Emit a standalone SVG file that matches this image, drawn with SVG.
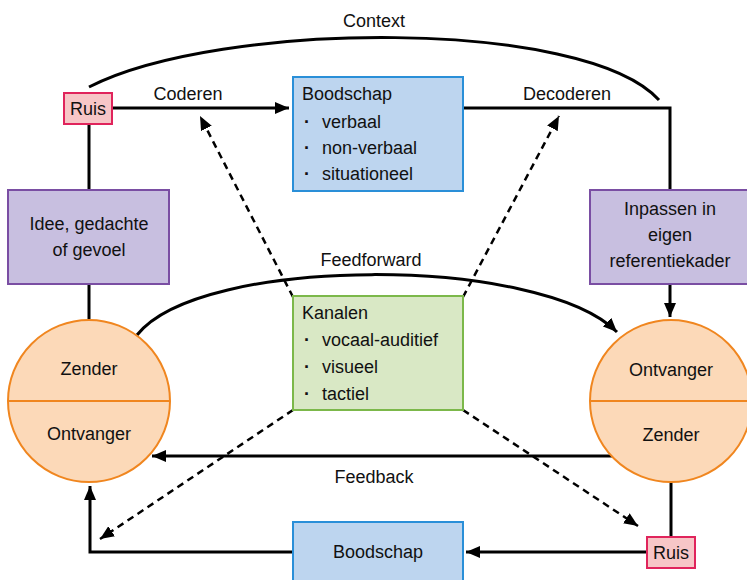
<svg xmlns="http://www.w3.org/2000/svg" width="747" height="580" viewBox="0 0 747 580">
<style>
text{font-family:"Liberation Sans",Arial,sans-serif;font-size:18px;fill:#111}
.c{text-anchor:middle}
.ruis{fill:#f7c6c7;stroke:#e0245c;stroke-width:2}
.msg{fill:#bdd5ef;stroke:#2a8fd8;stroke-width:2}
.idea{fill:#c8bfe0;stroke:#7a4ea3;stroke-width:2}
.chan{fill:#d9e8c5;stroke:#7cb84a;stroke-width:2}
.circ{fill:#fcd9b8;stroke:#f0861f;stroke-width:2}
.ln{fill:none;stroke:#000;stroke-width:3}
.dash{fill:none;stroke:#000;stroke-width:2.5;stroke-dasharray:7 5}
</style>
<defs>
<marker id="ah" markerUnits="userSpaceOnUse" markerWidth="14" markerHeight="12" refX="14" refY="6" orient="auto">
<path d="M0,0 L14,6 L0,12 z" fill="#000"/>
</marker>
</defs>
<g id="connectors">
<path class="ln" d="M89 87 C 220 20, 585 18, 659 100"/>
<path class="ln" d="M89 124 V190 M89 284 V319"/>
<path class="ln" d="M112 108 H289" marker-end="url(#ah)"/>
<path class="ln" d="M463 108 H670 V190"/>
<path class="ln" d="M670 284 V317" marker-end="url(#ah)"/>
<path class="ln" d="M137 335 C 200 255, 540 255, 617 332" marker-end="url(#ah)"/>
<path class="ln" d="M612 456 H152" marker-end="url(#ah)"/>
<path class="ln" d="M671 482 V537"/>
<path class="ln" d="M647 552 H466" marker-end="url(#ah)"/>
<path class="ln" d="M293 552 H90 V486" marker-end="url(#ah)"/>
<path class="dash" d="M293 297 L200 116" marker-end="url(#ah)"/>
<path class="dash" d="M463 297 L559 116" marker-end="url(#ah)"/>
<path class="dash" d="M293 410 L100 539" marker-end="url(#ah)"/>
<path class="dash" d="M463 410 L638 526" marker-end="url(#ah)"/>
</g>
<g id="labels">
<text class="c" x="374" y="27">Context</text>
<text class="c" x="188" y="100">Coderen</text>
<text class="c" x="567" y="100">Decoderen</text>
<text class="c" x="371" y="266">Feedforward</text>
<text class="c" x="374" y="483">Feedback</text>
</g>
<g id="ruis-top">
<rect class="ruis" x="64" y="93" width="48" height="31"/>
<text class="c" x="88" y="115">Ruis</text>
</g>
<g id="boodschap-top">
<rect class="msg" x="293" y="77" width="170" height="114"/>
<text x="302" y="100">Boodschap</text>
<text x="304" y="128"><tspan font-weight="bold">·</tspan><tspan x="322">verbaal</tspan></text>
<text x="304" y="154"><tspan font-weight="bold">·</tspan><tspan x="322">non-verbaal</tspan></text>
<text x="304" y="180"><tspan font-weight="bold">·</tspan><tspan x="322">situationeel</tspan></text>
</g>
<g id="idee">
<rect class="idea" x="8" y="190" width="161" height="94"/>
<text class="c" x="89" y="230">Idee, gedachte</text>
<text class="c" x="89" y="256">of gevoel</text>
</g>
<g id="inpassen">
<rect class="idea" x="590" y="190" width="160" height="94"/>
<text class="c" x="670" y="215">Inpassen in</text>
<text class="c" x="670" y="241">eigen</text>
<text class="c" x="670" y="267">referentiekader</text>
</g>
<g id="kanalen">
<rect class="chan" x="293" y="296" width="170" height="114"/>
<text x="302" y="319">Kanalen</text>
<text x="304" y="346"><tspan font-weight="bold">·</tspan><tspan x="322">vocaal-auditief</tspan></text>
<text x="304" y="373"><tspan font-weight="bold">·</tspan><tspan x="322">visueel</tspan></text>
<text x="304" y="400"><tspan font-weight="bold">·</tspan><tspan x="322">tactiel</tspan></text>
</g>
<g id="zender-links">
<circle class="circ" cx="89" cy="401" r="81"/>
<line x1="8" y1="401" x2="170" y2="401" stroke="#f0861f" stroke-width="2"/>
<text class="c" x="89" y="375">Zender</text>
<text class="c" x="89" y="440">Ontvanger</text>
</g>
<g id="ontvanger-rechts">
<circle class="circ" cx="671" cy="401" r="81"/>
<line x1="590" y1="401" x2="752" y2="401" stroke="#f0861f" stroke-width="2"/>
<text class="c" x="671" y="376">Ontvanger</text>
<text class="c" x="671" y="441">Zender</text>
</g>
<g id="boodschap-bottom">
<rect class="msg" x="293" y="522" width="170" height="70"/>
<text class="c" x="378" y="558">Boodschap</text>
</g>
<g id="ruis-bottom">
<rect class="ruis" x="647" y="537" width="48" height="31"/>
<text class="c" x="671" y="559">Ruis</text>
</g>
</svg>
